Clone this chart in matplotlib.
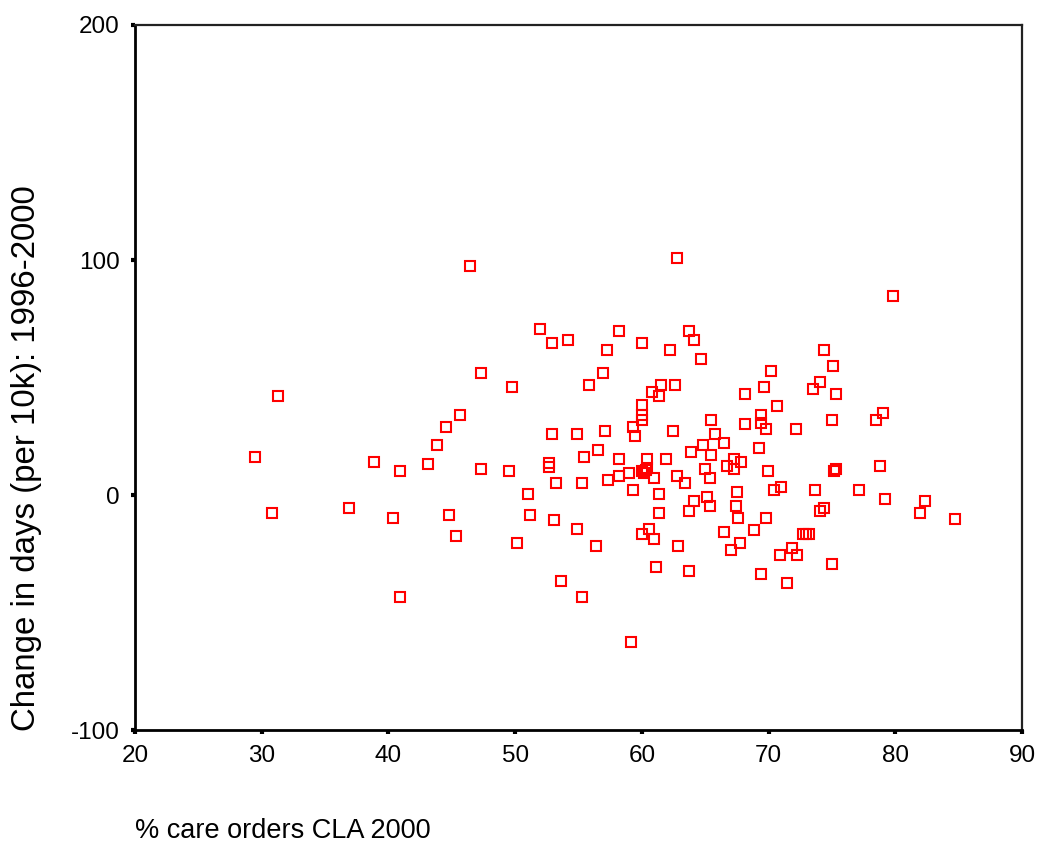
import matplotlib
matplotlib.use("Agg")
import matplotlib.pyplot as plt

# % care orders (x) and change in days per 10k (y)
care_orders = [
    29.47, 31.31, 30.79, 36.87, 38.86, 40.33, 40.89, 40.89, 43.09, 43.84,
    44.58, 44.76, 45.31, 45.68, 46.44, 47.33, 47.33, 49.54, 49.73, 50.12,
    51.02, 51.20, 51.94, 52.68, 52.68, 52.89, 52.89, 53.04, 53.23, 53.59,
    54.15, 54.89, 54.89, 55.28, 55.28, 55.44, 55.83, 56.36, 56.57, 56.91,
    57.10, 57.28, 57.31, 58.20, 58.20, 58.20, 58.96, 59.11, 59.30, 59.30,
    59.49, 60.04, 60.04, 60.04, 60.04, 60.04, 60.33, 60.17, 60.41, 60.41,
    60.04, 60.60, 60.78, 60.99, 60.99, 61.15, 61.33, 61.33, 61.33, 61.52,
    61.88, 62.25, 62.46, 62.62, 62.80, 62.80, 62.85, 63.38, 63.73, 63.73,
    63.73, 63.90, 64.12, 64.12, 64.65, 64.83, 64.99, 65.11, 65.36, 65.40,
    65.43, 65.43, 65.74, 66.48, 66.48, 66.68, 67.04, 67.24, 67.30, 67.43,
    67.48, 67.61, 67.75, 67.82, 68.14, 68.14, 68.85, 69.25, 69.43, 69.43,
    69.43, 69.62, 69.80, 69.82, 69.99, 70.17, 70.43, 70.70, 70.90, 70.98,
    71.46, 71.85, 72.17, 72.22, 72.69, 72.96, 73.22, 73.51, 73.67, 74.07,
    74.07, 74.41, 74.41, 74.99, 74.99, 75.12, 75.17, 75.33, 75.33, 77.17,
    78.46, 78.82, 79.01, 79.22, 79.78, 81.96, 82.33, 84.70,
]
change_days = [
    16.3, 42.0, -7.7, -5.7, 14.2, -9.6, 10.2, -43.4, 13.2, 21.1,
    29.1, -8.7, -17.6, 34.0, 97.6, 51.9, 11.1, 10.2, 46.0, -20.6,
    0.3, -8.7, 70.8, 13.5, 12.1, 64.8, 26.1, -10.6, 5.2, -36.5,
    65.8, 26.1, -14.6, 5.2, -43.4, 16.2, 46.9, -21.6, 19.1, 51.9,
    27.1, 61.8, 6.2, 69.8, 15.2, 8.2, 9.2, -62.4, 29.1, 2.1,
    25.1, 64.8, 38.2, 34.0, 31.9, 10.2, 10.6, 9.2, 11.3, 15.2,
    -16.6, -14.6, 44.0, 7.1, -18.6, -30.5, 42.0, 0.3, -7.7, 46.9,
    15.2, 61.8, 27.1, 46.9, 100.7, 8.2, -21.6, 5.2, 69.8, -6.7,
    -32.5, 18.2, 65.8, -2.7, 57.9, 21.1, 11.2, -0.7, 7.1, -4.7,
    32.0, 17.1, 26.1, 22.1, -15.6, 12.2, -23.5, 11.2, 15.2, -4.7,
    1.3, -9.6, -20.6, 14.2, 43.0, 30.1, -14.8, 20.1, 34.0, 30.5,
    -33.5, 46.0, 28.1, -9.6, 10.2, 52.9, 2.3, 38.0, -25.5, 3.3,
    -37.4, -22.6, 28.1, -25.5, -16.6, -16.6, -16.6, 45.0, 2.3, 47.9,
    -6.7, 61.8, -5.7, 32.0, -29.5, 54.9, 10.2, 11.2, 43.0, 2.3,
    32.0, 12.2, 35.0, -1.7, 84.7, -7.7, -2.7, -10.3,
]

x_ticks = [20, 30, 40, 50, 60, 70, 80, 90]
y_ticks = [-100, 0, 100, 200]

plt.rcParams["font.family"] = ["Liberation Sans", "DejaVu Sans"]
plt.rcParams["axes.unicode_minus"] = False

fig = plt.figure(figsize=(10.4, 8.47), dpi=100)
ax = fig.add_axes([0.1298, 0.1381, 0.8529, 0.8324])

ax.plot(care_orders, change_days, linestyle="none", marker="s",
        markersize=6.6, markerfacecolor="none", markeredgecolor="#ff0000",
        markeredgewidth=1.5)

ax.set_xlim(20, 90)
ax.set_ylim(-100, 200)
ax.set_xticks(x_ticks)
ax.set_yticks(y_ticks)
ax.tick_params(direction="out", length=3, width=3, labelsize=17.5, pad=8,
               colors="black")

for side in ["left", "bottom"]:
    ax.spines[side].set_linewidth(2.0)
for side in ["top", "right"]:
    ax.spines[side].set_linewidth(1.6)
    ax.spines[side].set_color("#222222")

fig.text(27 / 1040, 1 - 458 / 847, "Change in days (per 10k): 1996-2000",
         rotation=90, ha="center", va="center", fontsize=23.8)
fig.text(135 / 1040, 1 - 831 / 847, "% care orders CLA 2000",
         ha="left", va="center", fontsize=19.5)

fig.savefig("out.png", dpi=100)
